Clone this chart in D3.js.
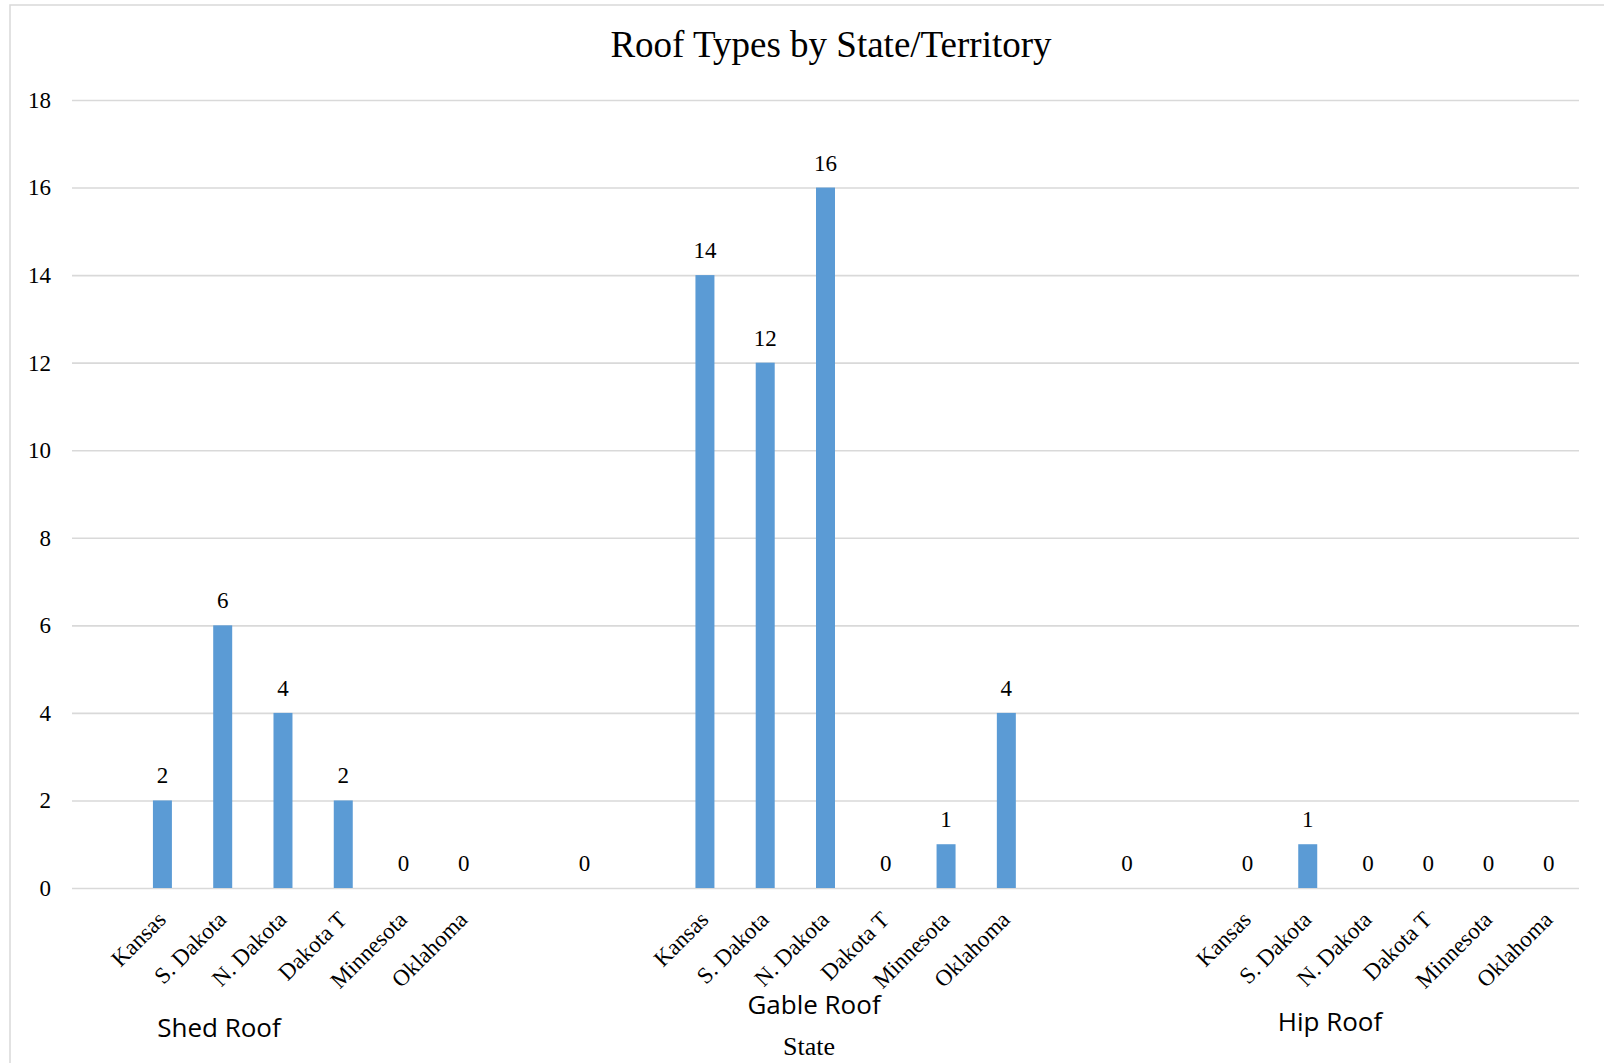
<!DOCTYPE html>
<html>
<head>
<meta charset="utf-8">
<script src="https://cdn.jsdelivr.net/npm/d3@7"></script>
<style>
  html, body { margin: 0; padding: 0; background: #fff; }
  svg { display: block; }
</style>
</head>
<body>
<svg id="chart" width="1604" height="1063"></svg>
<script>
// ---- data ----
const categories = ["", "Kansas", "S. Dakota", "N. Dakota", "Dakota T", "Minnesota", "Oklahoma",
  "", "", "",
  "Kansas", "S. Dakota", "N. Dakota", "Dakota T", "Minnesota", "Oklahoma",
  "", "", "",
  "Kansas", "S. Dakota", "N. Dakota", "Dakota T", "Minnesota", "Oklahoma"];
const values = [null, 2, 6, 4, 2, 0, 0,
  null, 0, null,
  14, 12, 16, 0, 1, 4,
  null, 0, null,
  0, 1, 0, 0, 0, 0];
const yTicks = [0, 2, 4, 6, 8, 10, 12, 14, 16, 18];
const groupLabels = ["Shed Roof", "Gable Roof", "Hip Roof"];
const title = "Roof Types by State/Territory";
const xTitle = "State";

// ---- layout ----
const W = 1604, H = 1063;
const plot = { left: 72, right: 1579, top: 100, bottom: 888 };
const groupLabelPos = [ {x: 219, y: 1037}, {x: 814, y: 1014}, {x: 1330, y: 1031} ];
const serif = "'Liberation Serif', 'Times New Roman', serif";
const sans = "'Open Sans', 'Noto Sans', sans-serif";

const svg = d3.select("#chart");
svg.append("rect").attr("x", 10).attr("y", 5).attr("width", 1620).attr("height", 1080)
  .attr("fill", "#fff").attr("stroke", "#d9d9d9").attr("stroke-width", 1.5);

const idx = categories.map((d, i) => i);
const x = d3.scaleBand().domain(idx).range([plot.left, plot.right])
  .paddingInner(0.685).paddingOuter(0.685 / 2);
const y = d3.scaleLinear().domain([0, 18]).range([plot.bottom, plot.top]);

// gridlines + y labels
const yAxis = d3.axisLeft(y).tickValues(yTicks).tickSize(-(plot.right - plot.left)).tickPadding(21);
const gy = svg.append("g").attr("transform", `translate(${plot.left},0)`).call(yAxis);
gy.select(".domain").remove();
gy.selectAll(".tick line").attr("stroke", "#d9d9d9").attr("stroke-width", 1.6);
gy.selectAll(".tick text").attr("font-family", serif).attr("font-size", 23).attr("fill", "#000");

// bars
const data = idx.map(i => ({ i, cat: categories[i], v: values[i] }));
svg.append("g").selectAll("rect").data(data.filter(d => d.v !== null && d.v > 0)).join("rect")
  .attr("x", d => x(d.i)).attr("width", x.bandwidth())
  .attr("y", d => y(d.v)).attr("height", d => y(0) - y(d.v))
  .attr("fill", "#5b9bd5");

// data labels
svg.append("g").selectAll("text").data(data.filter(d => d.v !== null)).join("text")
  .attr("x", d => x(d.i) + x.bandwidth() / 2)
  .attr("y", d => y(d.v) - 17)
  .attr("text-anchor", "middle")
  .attr("font-family", serif).attr("font-size", 23).attr("fill", "#000")
  .text(d => d.v);

// category labels
const xAxis = d3.axisBottom(x).tickSize(0).tickFormat(i => categories[i]);
const gx = svg.append("g").attr("transform", `translate(0,${plot.bottom})`).call(xAxis);
gx.select(".domain").remove();
gx.selectAll(".tick text")
  .attr("font-family", serif).attr("font-size", 23).attr("fill", "#000")
  .attr("text-anchor", "end")
  .attr("y", 0).attr("dy", 0)
  .attr("transform", "translate(5,33) rotate(-45)");

// group labels
svg.append("g").selectAll("text").data(groupLabels).join("text")
  .attr("x", (d, i) => groupLabelPos[i].x).attr("y", (d, i) => groupLabelPos[i].y)
  .attr("text-anchor", "middle").attr("font-family", sans).attr("font-size", 26).attr("fill", "#000")
  .text(d => d);

// titles
svg.append("text").attr("x", 831).attr("y", 57).attr("text-anchor", "middle")
  .attr("font-family", serif).attr("font-size", 37).attr("fill", "#000").text(title);
svg.append("text").attr("x", 809).attr("y", 1055).attr("text-anchor", "middle")
  .attr("font-family", serif).attr("font-size", 26).attr("fill", "#000").text(xTitle);
</script>
</body>
</html>
